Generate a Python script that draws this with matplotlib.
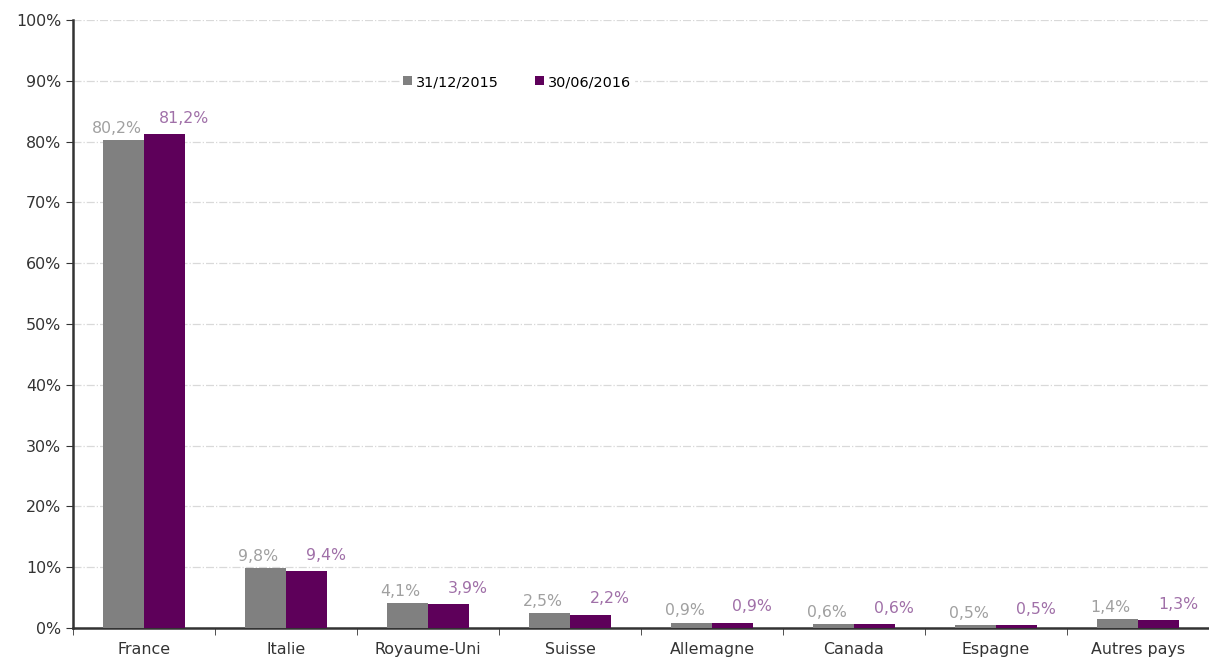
import numpy as np
import matplotlib.pyplot as plt
from matplotlib.ticker import MultipleLocator, FuncFormatter

# data
pays = ['France', 'Italie', 'Royaume-Uni', 'Suisse', 'Allemagne', 'Canada', 'Espagne', 'Autres pays']
val_2015 = [80.2, 9.8, 4.1, 2.5, 0.9, 0.6, 0.5, 1.4]
val_2016 = [81.2, 9.4, 3.9, 2.2, 0.9, 0.6, 0.5, 1.3]
series = ['31/12/2015', '30/06/2016']

gris = '#808080'
violet = '#5E005A'

plt.rcParams['font.family'] = ['DejaVu Sans']
plt.rcParams['font.size'] = 11

fig = plt.figure(figsize=(12.09, 6.57), dpi=100)
ax = fig.add_axes([73 / 1209, 1 - 628 / 657, 1 - 73 / 1209, (628 - 20) / 657])

x = np.arange(len(pays))
w = 0.29
ax.bar(x - w / 2, val_2015, w, color=gris, label=series[0], zorder=3)
ax.bar(x + w / 2, val_2016, w, color=violet, label=series[1], zorder=3)

def fmt(v):
    return ('%.1f%%' % v).replace('.', ',')

for xi, v in zip(x, val_2015):
    ax.annotate(fmt(v), (xi - w / 2, v), xytext=(-5, 3), textcoords='offset points',
                ha='center', va='bottom', color='#A0A0A0', fontsize=11.3)
for xi, v in zip(x, val_2016):
    ax.annotate(fmt(v), (xi + w / 2, v), xytext=(14, 6), textcoords='offset points',
                ha='center', va='bottom', color='#A070A8', fontsize=11.3)

ax.set_xlim(-0.5, len(pays) - 0.5)
ax.set_ylim(0, 100)
ax.yaxis.set_major_locator(MultipleLocator(10))
ax.yaxis.set_major_formatter(FuncFormatter(lambda v, p: '%d%%' % v))
ax.set_xticks(x)
ax.set_xticklabels(pays)
ax.set_xticks(np.arange(len(pays) + 1) - 0.5, minor=True)
ax.tick_params(axis='x', which='major', length=0, pad=10, colors='#333333', labelsize=11.4)
ax.tick_params(axis='x', which='minor', length=5, color='#333333', direction='out')
ax.tick_params(axis='y', length=5, color='#333333', labelcolor='#333333', labelsize=11.4)

ax.grid(axis='y', color='#D9D9D9', linestyle='-.', linewidth=0.9, zorder=0)
for s in ['top', 'right']:
    ax.spines[s].set_visible(False)
ax.spines['left'].set_color('#333333')
ax.spines['bottom'].set_color('#333333')
ax.spines['left'].set_linewidth(1.8)
ax.spines['bottom'].set_linewidth(1.8)

leg = ax.legend(loc='center', bbox_to_anchor=((517 - 73) / 1136, 1 - 62 / 608), ncol=2, frameon=True,
                handlelength=0.6, handleheight=0.6, handletextpad=0.3, columnspacing=2.5,
                fontsize=10.4, borderpad=0.2)
leg.get_frame().set_edgecolor('white')
leg.get_frame().set_facecolor('white')
leg.get_frame().set_alpha(1)

fig.savefig('out.png', dpi=100)
